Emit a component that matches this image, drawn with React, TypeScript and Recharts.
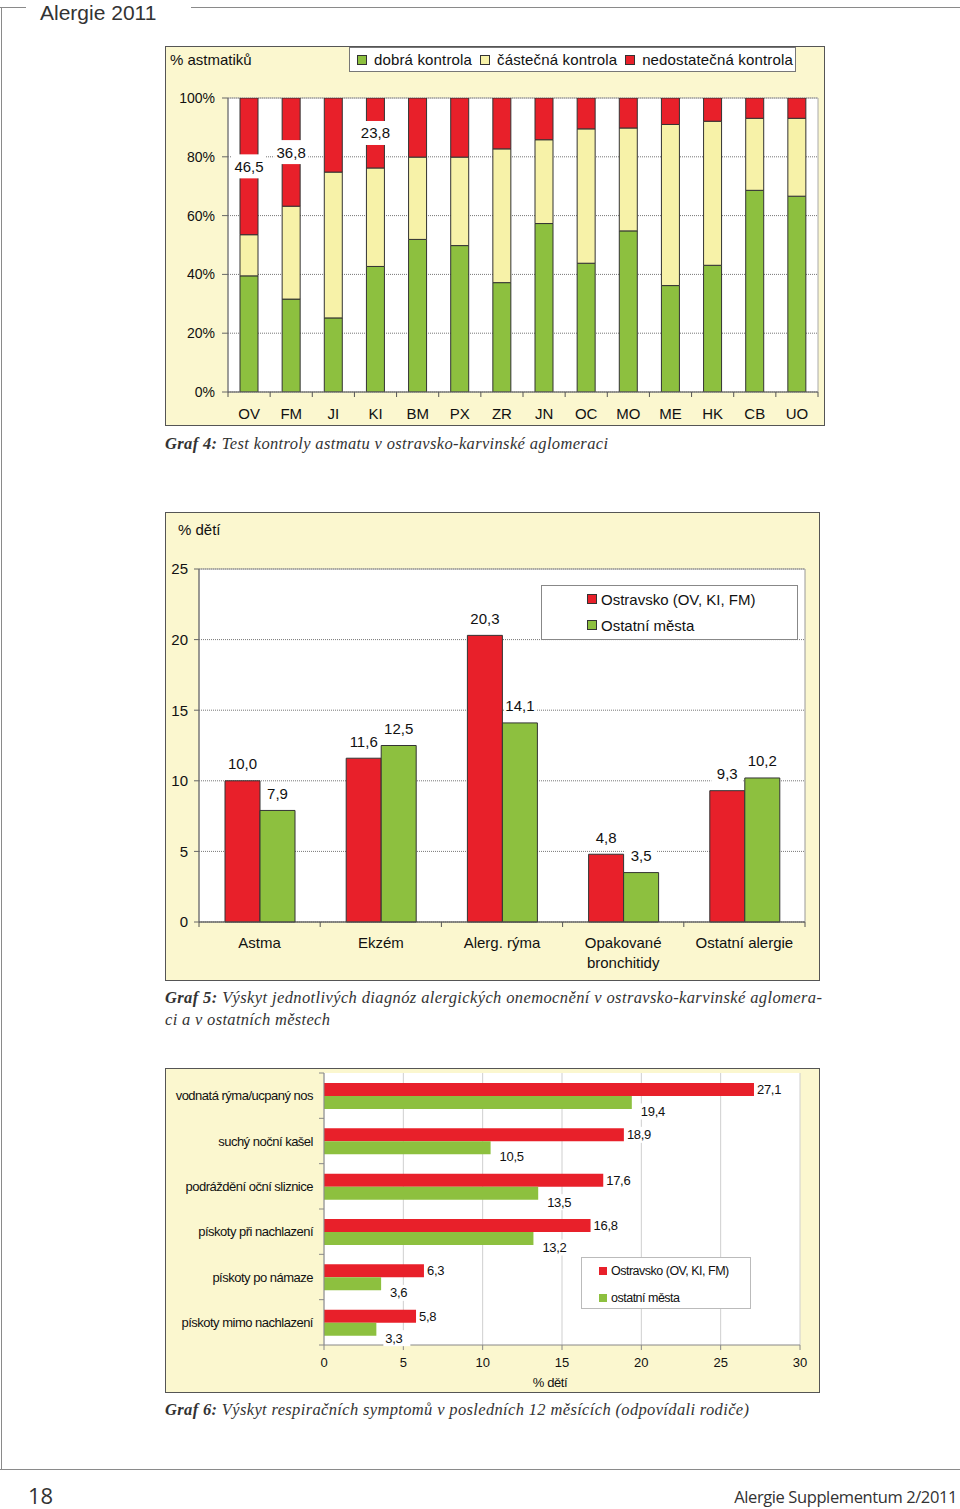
import React from "react";
import {
  BarChart,
  Bar,
  XAxis,
  YAxis,
  CartesianGrid,
  LabelList,
  Legend,
  ReferenceArea,
  Label,
} from "recharts";

// ---------- Graf 4 data ----------
const cities = ["OV", "FM", "JI", "KI", "BM", "PX", "ZR", "JN", "OC", "MO", "ME", "HK", "CB", "UO"];
const goodControl = [39.5, 31.6, 25.2, 42.7, 51.9, 49.8, 37.2, 57.3, 43.8, 54.8, 36.2, 43.1, 68.6, 66.6];
const partialControl = [14.0, 31.6, 49.6, 33.5, 28.0, 30.1, 45.5, 28.5, 45.7, 35.0, 54.8, 49.0, 24.5, 26.5];
const poorControl = [46.5, 36.8, 25.2, 23.8, 20.1, 20.1, 17.3, 14.2, 10.5, 10.2, 9.0, 7.9, 6.9, 6.9];
const poorLabels = ["46,5", "36,8", "", "23,8", "", "", "", "", "", "", "", "", "", ""];
const pctTicks = [0, 20, 40, 60, 80, 100];
const legend1Names = ["dobrá kontrola", "částečná kontrola", "nedostatečná kontrola"];

// ---------- Graf 5 data ----------
const diagnoses = ["Astma", "Ekzém", "Alerg. rýma", "Opakované\nbronchitidy", "Ostatní alergie"];
const diagOstravsko = [10.0, 11.6, 20.3, 4.8, 9.3];
const diagOstatni = [7.9, 12.5, 14.1, 3.5, 10.2];
const diagTicks = [0, 5, 10, 15, 20, 25];
const legend2Names = ["Ostravsko (OV, KI, FM)", "Ostatní města"];

// ---------- Graf 6 data ----------
const symptoms = [
  "vodnatá rýma/ucpaný nos",
  "suchý noční kašel",
  "podráždění oční sliznice",
  "pískoty při nachlazení",
  "pískoty po námaze",
  "pískoty mimo nachlazení",
];
const sympOstravsko = [27.1, 18.9, 17.6, 16.8, 6.3, 5.8];
const sympOstatni = [19.4, 10.5, 13.5, 13.2, 3.6, 3.3];
const sympTicks = [0, 5, 10, 15, 20, 25, 30];
const legend3Names = ["Ostravsko (OV, KI, FM)", "ostatní města"];

const data1 = cities.map((c, i) => ({
  city: c,
  good: goodControl[i],
  partial: partialControl[i],
  poor: poorControl[i],
  poorLabel: poorLabels[i],
}));
const data2 = diagnoses.map((d, i) => ({ diagnosis: d, ostravsko: diagOstravsko[i], ostatni: diagOstatni[i] }));
const data3 = symptoms.map((s, i) => ({ symptom: s, ostravsko: sympOstravsko[i], ostatni: sympOstatni[i] }));

const RED = "#E8202A";
const GREEN = "#8DC03F";
const PALE = "#F7F2A8";
const PANEL = "#FBF7CF";
const SANS = "'Liberation Sans', Arial, sans-serif";
const SERIF = "'Liberation Serif', 'Times New Roman', serif";
const TXT = "#111";

const fmt = (v: any) => Number(v).toFixed(1).replace(".", ",");

function BottomCatTick(props: any) {
  const { x, y, payload, index, visibleTicksCount, band, fontSize, textDy, lineGap = 20, tickLen = 5, tickColor = "#555" } = props;
  const half = payload && typeof payload.offset === "number" && payload.offset > 0 ? payload.offset : band / 2;
  const lines = String(payload.value).split("\n");
  return (
    <g>
      <line x1={x - half} y1={y} x2={x - half} y2={y + tickLen} stroke={tickColor} />
      {index === visibleTicksCount - 1 ? (
        <line x1={x + half} y1={y} x2={x + half} y2={y + tickLen} stroke={tickColor} />
      ) : null}
      <text x={x} y={y + textDy} textAnchor="middle" fontSize={fontSize} fontFamily={SANS} fill={TXT}>
        {lines.map((l: string, i: number) => (
          <tspan key={i} x={x} dy={i === 0 ? 0 : lineGap}>
            {l}
          </tspan>
        ))}
      </text>
    </g>
  );
}

function LeftCatTick(props: any) {
  const { x, y, payload, index, visibleTicksCount, band } = props;
  const half = payload && typeof payload.offset === "number" && payload.offset > 0 ? payload.offset : band / 2;
  return (
    <g>
      <line x1={x - 5} y1={y - half} x2={x} y2={y - half} stroke="#888" />
      {index === visibleTicksCount - 1 ? <line x1={x - 5} y1={y + half} x2={x} y2={y + half} stroke="#888" /> : null}
      <text x={x - 11} y={y + 4.5} textAnchor="end" fontSize={13} letterSpacing={-0.5} fontFamily={SANS} fill={TXT}>
        {payload.value}
      </text>
    </g>
  );
}

function PoorLabel(props: any) {
  const { x, y, width, height, value } = props;
  if (!value) return null;
  const cx = Number(x) + Number(width) / 2;
  const cy = Number(y) + Number(height) / 2;
  return (
    <g>
      <rect x={cx - 17} y={cy - 12} width={34} height={24} fill="#fff" />
      <text x={cx} y={cy + 5.5} textAnchor="middle" fontSize={15} fontFamily={SANS} fill={TXT}>
        {value}
      </text>
    </g>
  );
}

function TopLabel(props: any) {
  const { x, y, width, value } = props;
  const cx = Number(x) + Number(width) / 2;
  const cy = Number(y) - 17;
  return (
    <g>
      <rect x={cx - 16} y={cy - 10} width={32} height={20} fill="#fff" />
      <text x={cx} y={cy + 5.5} textAnchor="middle" fontSize={15} fontFamily={SANS} fill={TXT}>
        {fmt(value)}
      </text>
    </g>
  );
}

function makeSideLabel(dx: number, dyc: number) {
  return (props: any) => {
    const { x, y, width, height, value } = props;
    const tx = Number(x) + Number(width) + dx;
    const cy = Number(y) + Number(height) / 2 + dyc;
    return (
      <g>
        <rect x={tx - 2} y={cy - 8} width={27} height={16} fill="#fff" />
        <text x={tx} y={cy + 4.5} textAnchor="start" fontSize={13} letterSpacing={-0.3} fontFamily={SANS} fill={TXT}>
          {fmt(value)}
        </text>
      </g>
    );
  };
}
const RedSideLabel = makeSideLabel(3, 0);
const GreenSideLabel = makeSideLabel(9, 9);

function sortByNames(payload: any[], names: string[]) {
  return [...(payload || [])].sort((a, b) => names.indexOf(a.value) - names.indexOf(b.value));
}

function Legend1(p: any) {
  const items = sortByNames(p.payload, legend1Names);
  return (
    <div
      style={{
        width: 447,
        height: 25,
        boxSizing: "border-box",
        background: "#fff",
        border: "1px solid #777",
        display: "flex",
        alignItems: "center",
        paddingLeft: 7,
        fontFamily: SANS,
        fontSize: 15,
        letterSpacing: 0.15,
        color: TXT,
        whiteSpace: "nowrap",
      }}
    >
      {items.map((it: any, i: number) => (
        <span key={i} style={{ display: "flex", alignItems: "center", marginRight: 8 }}>
          <span
            style={{
              display: "inline-block",
              width: 10,
              height: 10,
              boxSizing: "border-box",
              background: it.color,
              border: "1px solid #333",
              marginRight: 7,
            }}
          />
          {it.value}
        </span>
      ))}
    </div>
  );
}

function Legend2(p: any) {
  const items = sortByNames(p.payload, legend2Names);
  return (
    <div
      style={{
        width: 257,
        height: 55,
        boxSizing: "border-box",
        background: "#fff",
        border: "1px solid #888",
        paddingLeft: 45,
        paddingTop: 4,
        fontFamily: SANS,
        fontSize: 15,
        color: TXT,
        whiteSpace: "nowrap",
      }}
    >
      {items.map((it: any, i: number) => (
        <div key={i} style={{ display: "flex", alignItems: "center", height: 18, marginBottom: 8 }}>
          <span
            style={{
              display: "inline-block",
              width: 10,
              height: 10,
              boxSizing: "border-box",
              background: it.color,
              border: "1px solid #333",
              marginRight: 4,
            }}
          />
          {it.value}
        </div>
      ))}
    </div>
  );
}

function Legend3(p: any) {
  const items = sortByNames(p.payload, legend3Names);
  return (
    <div
      style={{
        width: 170,
        height: 52,
        boxSizing: "border-box",
        background: "#fff",
        border: "1px solid #bbb",
        paddingLeft: 17,
        paddingTop: 5,
        fontFamily: SANS,
        fontSize: 12.5,
        letterSpacing: -0.5,
        color: TXT,
        whiteSpace: "nowrap",
      }}
    >
      {items.map((it: any, i: number) => (
        <div key={i} style={{ display: "flex", alignItems: "center", height: 16, marginBottom: 11 }}>
          <span style={{ display: "inline-block", width: 8, height: 8, background: it.color, marginRight: 4 }} />
          {it.value}
        </div>
      ))}
    </div>
  );
}

function Panel({ left, top, width, height, children }: any) {
  return (
    <div style={{ position: "absolute", left, top, width, height }}>
      <div
        style={{
          position: "absolute",
          left: 0,
          top: 0,
          width,
          height,
          background: PANEL,
          border: "1.5px solid #555",
          boxSizing: "border-box",
        }}
      />
      <div style={{ position: "absolute", left: 0, top: 0 }}>{children}</div>
    </div>
  );
}

function AxisTitle({ left, top, children, size = 15 }: any) {
  return (
    <div
      style={{
        position: "absolute",
        left,
        top,
        fontFamily: SANS,
        fontSize: size,
        lineHeight: "18px",
        color: TXT,
        whiteSpace: "nowrap",
      }}
    >
      {children}
    </div>
  );
}

function Chart1() {
  return (
    <Panel left={165} top={46} width={660} height={380}>
      <BarChart width={660} height={380} data={data1} margin={{ top: 52, right: 7, bottom: 4, left: 13 }} barSize={18}>
        <CartesianGrid vertical={false} stroke="#777" strokeDasharray="1 1" fill="#fff" />
        <ReferenceArea y1={0} y2={100} fill="none" stroke="#aaa" ifOverflow="visible" />
        <XAxis
          dataKey="city"
          interval={0}
          tickSize={0}
          tickMargin={0}
          tickLine={false}
          axisLine={{ stroke: "#666" }}
          height={30}
          tick={(p: any) => <BottomCatTick {...p} band={590 / 14} fontSize={15} textDy={27} />}
        />
        <YAxis
          domain={[0, 100]}
          allowDataOverflow
          ticks={pctTicks}
          tickFormatter={(v: any) => `${v}%`}
          width={50}
          axisLine={{ stroke: "#666" }}
          tickLine={{ stroke: "#666" }}
          tickSize={6}
          tickMargin={7}
          tick={{ fontSize: 14, fill: TXT, fontFamily: SANS }}
        />
        <Legend
          layout="horizontal"
          verticalAlign="middle"
          align="center"
          content={Legend1}
          wrapperStyle={{ left: 184, top: 1, width: 447, height: 25 }}
        />
        <Bar dataKey="good" name="dobrá kontrola" stackId="a" fill={GREEN} stroke="#333" strokeWidth={1} isAnimationActive={false} />
        <Bar dataKey="partial" name="částečná kontrola" stackId="a" fill={PALE} stroke="#333" strokeWidth={1} isAnimationActive={false} />
        <Bar dataKey="poor" name="nedostatečná kontrola" stackId="a" fill={RED} stroke="#333" strokeWidth={1} isAnimationActive={false}>
          <LabelList dataKey="poorLabel" content={PoorLabel} />
        </Bar>
      </BarChart>
      <AxisTitle left={5} top={5}>% astmatiků</AxisTitle>
    </Panel>
  );
}

function Chart2() {
  return (
    <Panel left={165} top={512} width={655} height={469}>
      <BarChart width={655} height={469} data={data2} margin={{ top: 57, right: 15, bottom: 9, left: 4 }} barSize={35} barGap={0}>
        <CartesianGrid vertical={false} stroke="#777" strokeDasharray="1 1" fill="#fff" />
        <ReferenceArea y1={0} y2={25} fill="none" stroke="#999" ifOverflow="visible" />
        <XAxis
          dataKey="diagnosis"
          interval={0}
          tickSize={0}
          tickMargin={0}
          tickLine={false}
          axisLine={{ stroke: "#555" }}
          height={50}
          tick={(p: any) => <BottomCatTick {...p} band={606 / 5} fontSize={15} textDy={26} lineGap={20} />}
        />
        <YAxis
          domain={[0, 25]}
          ticks={diagTicks}
          width={30}
          axisLine={{ stroke: "#666" }}
          tickLine={{ stroke: "#666" }}
          tickSize={5}
          tickMargin={6}
          tick={{ fontSize: 15, fill: TXT, fontFamily: SANS }}
        />
        <Legend
          layout="horizontal"
          verticalAlign="middle"
          align="center"
          content={Legend2}
          wrapperStyle={{ left: 376, top: 73, width: 257, height: 55 }}
        />
        <Bar dataKey="ostravsko" name="Ostravsko (OV, KI, FM)" fill={RED} stroke="#333" strokeWidth={1} isAnimationActive={false}>
          <LabelList dataKey="ostravsko" content={TopLabel} />
        </Bar>
        <Bar dataKey="ostatni" name="Ostatní města" fill={GREEN} stroke="#333" strokeWidth={1} isAnimationActive={false}>
          <LabelList dataKey="ostatni" content={TopLabel} />
        </Bar>
      </BarChart>
      <AxisTitle left={13} top={9}>% dětí</AxisTitle>
    </Panel>
  );
}

function Chart3() {
  return (
    <Panel left={165} top={1068} width={655} height={325}>
      <BarChart
        layout="vertical"
        width={655}
        height={325}
        data={data3}
        margin={{ top: 5, right: 20, bottom: 7, left: 0 }}
        barSize={13}
        barGap={0}
      >
        <CartesianGrid horizontal={false} stroke="#cfcfcf" fill="#fff" />
        <XAxis
          type="number"
          domain={[0, 30]}
          ticks={sympTicks}
          height={41}
          tickSize={5}
          tickMargin={8}
          axisLine={{ stroke: "#888" }}
          tickLine={{ stroke: "#888" }}
          tick={{ fontSize: 13, fill: TXT, fontFamily: SANS }}
        >
          <Label value="% dětí" position="insideBottom" offset={-1} dx={-12} fontSize={13} fill={TXT} fontFamily={SANS} letterSpacing={-0.4} />
        </XAxis>
        <YAxis
          type="category"
          dataKey="symptom"
          width={159}
          interval={0}
          tickSize={0}
          tickMargin={0}
          tickLine={false}
          axisLine={{ stroke: "#888" }}
          tick={(p: any) => <LeftCatTick {...p} band={272 / 6} />}
        />
        <Legend
          layout="horizontal"
          verticalAlign="middle"
          align="center"
          content={Legend3}
          wrapperStyle={{ left: 416, top: 189, width: 170, height: 52 }}
        />
        <Bar dataKey="ostravsko" name="Ostravsko (OV, KI, FM)" fill={RED} isAnimationActive={false}>
          <LabelList dataKey="ostravsko" content={RedSideLabel} />
        </Bar>
        <Bar dataKey="ostatni" name="ostatní města" fill={GREEN} isAnimationActive={false}>
          <LabelList dataKey="ostatni" content={GreenSideLabel} />
        </Bar>
      </BarChart>
    </Panel>
  );
}

function PageFrame() {
  const cap = { fontFamily: SERIF, fontStyle: "italic" as const, fontSize: 16.5, fill: "#333" };
  return (
    <svg width={960} height={1509} style={{ position: "absolute", left: 0, top: 0 }}>
      <line x1={0} y1={7.5} x2={26} y2={7.5} stroke="#8a8a8a" />
      <line x1={191} y1={7.5} x2={960} y2={7.5} stroke="#8a8a8a" />
      <line x1={1.5} y1={7.5} x2={1.5} y2={1469.5} stroke="#8a8a8a" />
      <line x1={0} y1={1469.5} x2={960} y2={1469.5} stroke="#8a8a8a" />
      <text x={40} y={19.5} fontFamily={SANS} fontSize={21} fill="#333">
        Alergie 2011
      </text>
      <text x={165} y={449} {...cap} textLength={443} lengthAdjust="spacing">
        <tspan fontWeight="bold">Graf 4:</tspan> Test kontroly astmatu v ostravsko-karvinské aglomeraci
      </text>
      <text x={165} y={1003} {...cap} textLength={657} lengthAdjust="spacing">
        <tspan fontWeight="bold">Graf 5:</tspan> Výskyt jednotlivých diagnóz alergických onemocnění v ostravsko-karvinské aglomera-
      </text>
      <text x={165} y={1025} {...cap} textLength={165} lengthAdjust="spacing">
        ci a v ostatních městech
      </text>
      <text x={165} y={1415} {...cap} textLength={584} lengthAdjust="spacing">
        <tspan fontWeight="bold">Graf 6:</tspan> Výskyt respiračních symptomů v posledních 12 měsících (odpovídali rodiče)
      </text>
      <text x={28} y={1504} fontFamily="'Open Sans', 'Noto Sans', sans-serif" fontSize={22} fill="#333">
        18
      </text>
      <text x={957} y={1503} textAnchor="end" fontFamily="'Open Sans', 'Noto Sans', sans-serif" fontSize={16.5} fill="#333" letterSpacing={-0.4}>
        Alergie Supplementum 2/2011
      </text>
    </svg>
  );
}

export default function App() {
  return (
    <div style={{ position: "absolute", left: 0, top: 0, width: 960, height: 1509, background: "#fff", overflow: "hidden" }}>
      <PageFrame />
      <Chart1 />
      <Chart2 />
      <Chart3 />
    </div>
  );
}
